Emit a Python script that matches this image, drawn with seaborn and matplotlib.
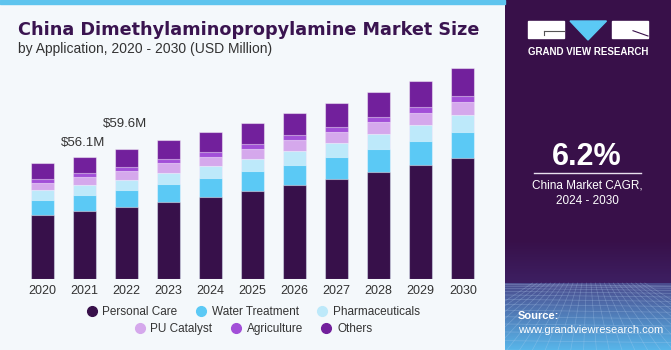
import matplotlib.pyplot as plt
import seaborn as sns
import pandas as pd
import numpy as np
from matplotlib.lines import Line2D
from matplotlib.patches import Rectangle, Polygon

plt.rcParams['font.family'] = ['Liberation Sans', 'DejaVu Sans']

# 값은 그림에서 읽어서 추정한 값 (USD Million)
years = ['2020', '2021', '2022', '2023', '2024', '2025', '2026', '2027', '2028', '2029', '2030']
personal_care = [29.2, 31.0, 33.0, 35.4, 37.7, 40.3, 42.9, 45.7, 48.8, 52.0, 55.4]
water_treatment = [6.8, 7.2, 7.6, 8.0, 8.4, 9.1, 9.5, 10.1, 10.6, 11.3, 12.0]
pharmaceuticals = [4.5, 4.6, 4.9, 5.2, 5.7, 5.5, 6.3, 6.4, 7.0, 7.2, 7.8]
pu_catalyst = [3.5, 4.0, 3.8, 4.5, 4.3, 4.7, 5.1, 5.2, 5.5, 5.8, 6.1]
agriculture = [1.7, 1.5, 2.0, 1.7, 2.0, 2.2, 2.2, 2.5, 2.3, 2.4, 2.6]
others = [7.4, 7.8, 8.3, 8.7, 9.2, 9.7, 10.1, 10.7, 11.4, 12.3, 12.7]

segments = ['Personal Care', 'Water Treatment', 'Pharmaceuticals', 'PU Catalyst', 'Agriculture', 'Others']
colors = ['#37104a', '#5bc9f5', '#bde9fa', '#d5a8ec', '#a24fd8', '#72209c']
label_years = ['2021', '2022']
label_offsets = [14, 25]  # 라벨 높이 (픽셀)

df = pd.DataFrame({'year': years, 'Personal Care': personal_care, 'Water Treatment': water_treatment,
                   'Pharmaceuticals': pharmaceuticals, 'PU Catalyst': pu_catalyst,
                   'Agriculture': agriculture, 'Others': others})
cum = df[segments].cumsum(axis=1)
cum['year'] = df['year']

bg = '#f4f8fb'
fig = plt.figure(figsize=(6.71, 3.5), dpi=100, facecolor=bg)

# 상단 파란 띠
fig.patches.append(Rectangle((0, 1 - 4 / 350), 505 / 671, 4 / 350, transform=fig.transFigure,
                             color='#5ec4ee', zorder=0))

ax = fig.add_axes([19 / 671, 71.5 / 350, 467 / 671, 218.5 / 350])
ax.set_facecolor(bg)

# 누적 막대: 큰 값부터 그려서 겹침
for seg, c in reversed(list(zip(segments, colors))):
    sns.barplot(data=cum, x='year', y=seg, order=years, color=c, saturation=1, width=0.55,
                edgecolor=(1, 1, 1, 0.45), linewidth=0.8, ax=ax)

totals = cum['Others'].values
for y, off in zip(label_years, label_offsets):
    i = years.index(y)
    ax.annotate(f'${totals[i]:.1f}M', (i, totals[i]), xytext=(-1, off), textcoords='offset pixels',
                ha='center', va='center', fontsize=9.5, color='#333333')

ax.set_xlim(-0.55, 10.55)
ax.set_ylim(0, 100.5)
ax.set_xlabel('')
ax.set_ylabel('')
ax.set_yticks([])
ax.tick_params(axis='x', length=0, pad=5, labelsize=9, labelcolor='#333333')
for s in ax.spines.values():
    s.set_visible(False)

# 제목
fig.text(18 / 671, 1 - 34.7 / 350, 'China Dimethylaminopropylamine Market Size', fontsize=12.7,
         fontweight='bold', family='DejaVu Sans', color='#3a1450', va='baseline')
fig.text(18 / 671, 1 - 53 / 350, 'by Application, 2020 - 2030 (USD Million)', fontsize=10,
         color='#333333', va='baseline')

# 범례 (두 줄)
handles = [Line2D([], [], marker='o', ls='', markersize=7, color=c) for c in colors]
leg1 = fig.legend(handles[:3], segments[:3], loc='center', bbox_to_anchor=(253 / 671, 1 - 312 / 350),
                  ncol=3, frameon=False, fontsize=8.5, handlelength=1.0, handletextpad=0.4,
                  columnspacing=1.5, labelcolor='#333333')
leg2 = fig.legend(handles[3:], segments[3:], loc='center', bbox_to_anchor=(253 / 671, 1 - 329 / 350),
                  ncol=3, frameon=False, fontsize=8.5, handlelength=1.0, handletextpad=0.4,
                  columnspacing=1.5, labelcolor='#333333')

# 오른쪽 패널
axp = fig.add_axes([505 / 671, 0, 166 / 671, 1])
axp.axis('off')


def hexrgb(h):
    return np.array([int(h[i:i + 2], 16) for i in (1, 3, 5)]) / 255


rows = np.arange(350) + 0.5
grad = np.zeros((350, 3))
top1, top2 = hexrgb('#381049'), hexrgb('#3d1f62')
bot1, bot2 = hexrgb('#4a4a8c'), hexrgb('#58b6ea')
for r in range(350):
    y = rows[r]
    if y < 283:
        t = np.clip((y - 240) / 43, 0, 1)
        grad[r] = top1 * (1 - t) + top2 * t
    else:
        t = (y - 283) / 67
        grad[r] = bot1 * (1 - t) + bot2 * t
axp.imshow(grad[:, None, :], extent=(505, 671, 350, 0), aspect='auto')
# 바닥 격자 무늬 (대략)
for k in range(14):
    yy = 284 + k * k * 0.36 + k * 0.4
    axp.plot([505, 671], [yy, yy + 2], color='#b9d4f2', lw=0.5, alpha=0.3)
for xx in np.linspace(430, 750, 26):
    axp.plot([588 + (xx - 588) * 0.35, xx], [283, 350], color='#b9d4f2', lw=0.5, alpha=0.3)
axp.set_xlim(505, 671)
axp.set_ylim(350, 0)

# 로고
axp.add_patch(Rectangle((527.5, 21), 36.5, 17.3, color='white'))
axp.add_patch(Polygon([(570, 21), (606.5, 21), (588, 40)], color='#5bc9f5'))
axp.add_patch(Rectangle((611.5, 21), 36.8, 17.3, color='white'))
axp.plot([544, 564], [30.7, 30.7], color='#555555', lw=0.8)
axp.plot([544, 544], [30.7, 34.5], color='#555555', lw=0.8)
axp.plot([633, 648], [30.7, 36], color='#381049', lw=0.8)
axp.text(588, 51.7, 'GRAND VIEW RESEARCH', color='white', fontsize=7, fontweight='bold',
         ha='center', va='center')

axp.text(587, 157, '6.2%', color='white', fontsize=22, fontweight='bold', ha='center', va='center')
axp.plot([534, 641], [173.3, 173.3], color='#e8e0ee', lw=1)
axp.text(587, 185, 'China Market CAGR,', color='white', fontsize=8.5, ha='center', va='center')
axp.text(587, 201, '2024 - 2030', color='white', fontsize=8.5, ha='center', va='center')
axp.text(518, 316, 'Source:', color='white', fontsize=8, fontweight='bold', ha='left', va='center')
axp.text(518, 330, 'www.grandviewresearch.com', color='white', fontsize=8, ha='left', va='center')

plt.savefig('out.png', dpi=100, facecolor=bg)
